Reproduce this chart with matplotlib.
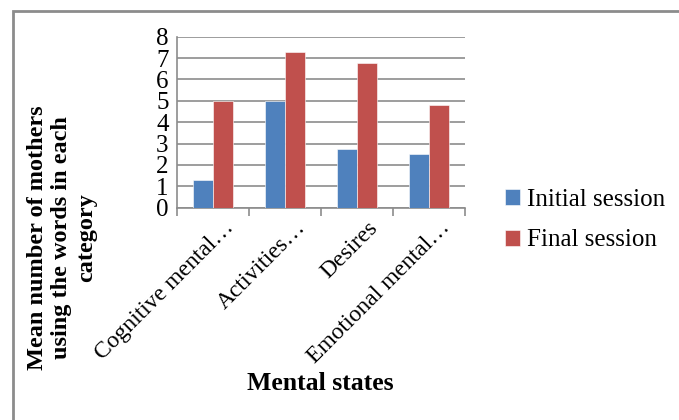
import matplotlib
matplotlib.use("Agg")
import matplotlib.pyplot as plt
import matplotlib.transforms as mtransforms
import numpy as np
from matplotlib.patches import Rectangle

categories = ["Cognitive mental…", "Activities…", "Desires", "Emotional mental…"]
initial_session = [1.3, 5.0, 2.75, 2.5]
final_session = [5.0, 7.3, 6.75, 4.8]
y_ticks = [0, 1, 2, 3, 4, 5, 6, 7, 8]

plt.rcParams["font.family"] = ["Liberation Serif", "DejaVu Serif"]

W, H = 679, 420
fig = plt.figure(figsize=(W / 100, H / 100), dpi=100)
ax = fig.add_axes([177 / W, 1 - 207.7 / H, 288 / W, 171 / H])

x = np.arange(len(categories))
bw = 0.28
blue = "#4F81BD"
red = "#C0504D"
ax.bar(x - bw / 2, initial_session, bw, color=blue, label="Initial session",
       edgecolor="#ffffff", linewidth=0.4, zorder=3)
ax.bar(x + bw / 2, final_session, bw, color=red, label="Final session",
       edgecolor="#ffffff", linewidth=0.4, zorder=3)

ax.set_xlim(-0.5, len(categories) - 0.5)
ax.set_ylim(0, 8)
ax.set_yticks(y_ticks)
ax.set_yticklabels([str(v) for v in y_ticks], fontsize=18)
ax.yaxis.grid(True, color="#8c8c8c", linewidth=1.2, zorder=0)
ax.tick_params(axis="y", length=0, pad=6)

# category boundaries as minor ticks below the axis
ax.set_xticks(np.arange(-0.5, len(categories), 1.0), minor=True)
ax.set_xticks(x)
ax.set_xticklabels(categories, rotation=45, ha="right", rotation_mode="anchor",
                   fontsize=17)
ax.tick_params(axis="x", which="major", length=0, pad=7)
ax.tick_params(axis="x", which="minor", length=6, color="#8c8c8c", width=1.2)
shift = mtransforms.ScaledTranslation(10 / 100, 0, fig.dpi_scale_trans)
for lbl in ax.get_xticklabels():
    lbl.set_transform(lbl.get_transform() + shift)

for s in ["top", "right"]:
    ax.spines[s].set_visible(False)
for s in ["left", "bottom"]:
    ax.spines[s].set_color("#8c8c8c")
    ax.spines[s].set_linewidth(1.2)

leg = fig.legend(loc="center left", bbox_to_anchor=(482 / W, 1 - 220 / H),
                 frameon=False, fontsize=18, handlelength=0.6, handleheight=0.6,
                 handletextpad=0.3, labelspacing=0.75)

fig.text(62 / W, 1 - 238 / H, "Mean number of mothers\nusing the words in each\ncategory",
         rotation=90, ha="center", va="center", multialignment="center",
         fontsize=17.5, fontweight="bold", linespacing=1.2)
fig.text(320 / W, 1 - 383 / H, "Mental states", ha="center", va="center",
         fontsize=18.5, fontweight="bold")

# chart frame
fig.patches.append(Rectangle((13 / W, -0.1), 1.2, 1 - 11 / H + 0.1,
                             transform=fig.transFigure, fill=False,
                             edgecolor="#8c8c8c", linewidth=2))

fig.savefig("out.png", dpi=100)
